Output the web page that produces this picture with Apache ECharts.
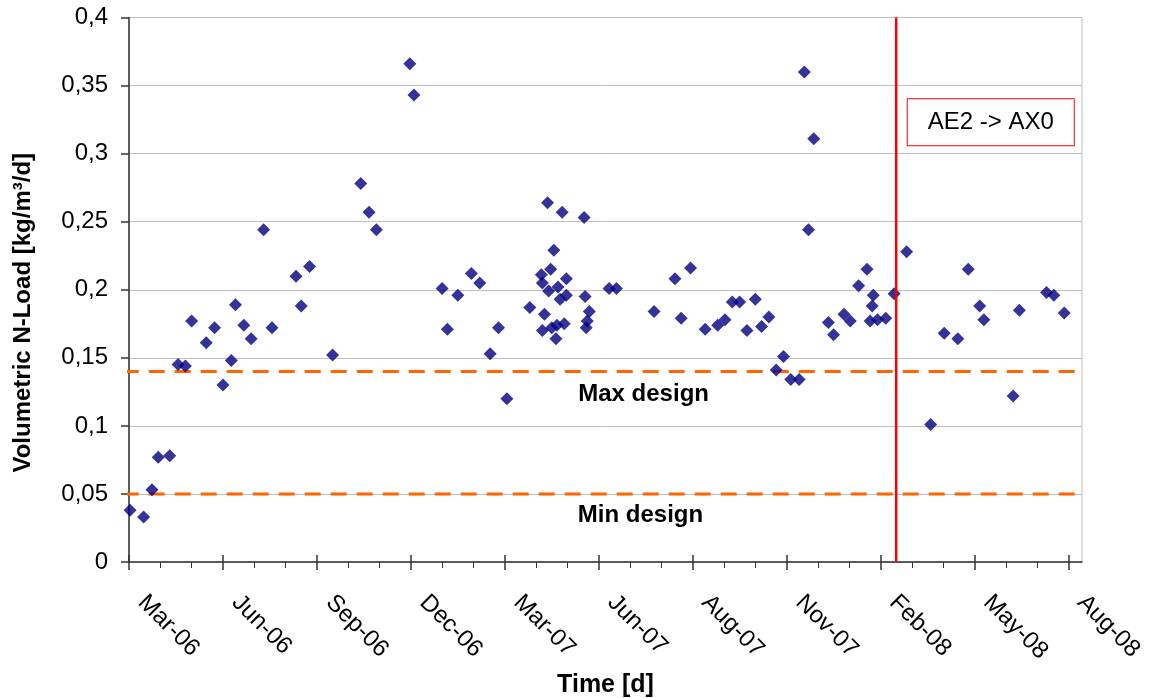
<!DOCTYPE html>
<html>
<head>
<meta charset="utf-8">
<script src="https://cdn.jsdelivr.net/npm/echarts@6/dist/echarts.min.js"></script>
<style>
  html, body { margin: 0; padding: 0; background: #ffffff; }
  #chart { width: 1152px; height: 698px; }
</style>
</head>
<body>
<div id="chart"></div>
<script>
// Sampling day (days since start of monitoring) and volumetric N-load [kg/m3/d]
const sampleDay = [
  1, 14, 22, 28, 39, 47, 54, 60, 74, 82,
  90, 98, 102, 110, 117, 129, 137, 160, 165, 173,
  195, 222, 230, 237, 269, 273, 300, 305, 315, 328,
  336, 346, 354, 362, 384, 395, 396, 396, 398, 401,
  402, 404, 405, 407, 409, 410, 411, 413, 415, 417,
  419, 419, 436, 437, 438, 439, 441, 460, 467, 503,
  523, 529, 538, 552, 564, 571, 578, 585, 592, 600,
  606, 613, 620, 627, 634, 642, 647, 651, 656, 670,
  675, 685, 691, 699, 707, 710, 712, 713, 717, 725,
  733, 745, 768, 781, 794, 804, 815, 819, 847, 853,
  879, 886, 896
];
const nLoad = [
  0.038, 0.033, 0.053, 0.077, 0.078, 0.145, 0.144, 0.177, 0.161, 0.172,
  0.130, 0.148, 0.189, 0.174, 0.164, 0.244, 0.172, 0.210, 0.188, 0.217,
  0.152, 0.278, 0.257, 0.244, 0.366, 0.343, 0.201, 0.171, 0.196, 0.212,
  0.205, 0.153, 0.172, 0.120, 0.187, 0.211, 0.205, 0.170, 0.182, 0.264,
  0.199, 0.215, 0.172, 0.229, 0.164, 0.174, 0.202, 0.193, 0.257, 0.175,
  0.196, 0.208, 0.253, 0.195, 0.172, 0.177, 0.184, 0.201, 0.201, 0.184,
  0.208, 0.179, 0.216, 0.171, 0.174, 0.178, 0.191, 0.191, 0.170, 0.193,
  0.173, 0.180, 0.141, 0.151, 0.134, 0.134, 0.360, 0.244, 0.311, 0.176,
  0.167, 0.182, 0.177, 0.203, 0.215, 0.177, 0.188, 0.196, 0.178, 0.179,
  0.197, 0.228, 0.101, 0.168, 0.164, 0.215, 0.188, 0.178, 0.122, 0.185,
  0.198, 0.196, 0.183
];

// Time axis: one label every 90 days
const xTickLabels = ['Mar-06', 'Jun-06', 'Sep-06', 'Dec-06', 'Mar-07', 'Jun-07',
                     'Aug-07', 'Nov-07', 'Feb-08', 'May-08', 'Aug-08'];
const xTickStepDays = 90;
const xMaxDays = 913;

// Load axis
const yMax = 0.4;
const yTickStep = 0.05;

// Design limits and process change
const maxDesign = 0.14;
const minDesign = 0.05;
const switchDay = 735;
const switchLabel = 'AE2 -> AX0';

const FONT = "'Liberation Sans', Arial, Helvetica, sans-serif";
const AXIS_COLOR = '#333333';
const LIMIT_OVERHANG_DAYS = 6;

const majorDays = xTickLabels.map((_, i) => i * xTickStepDays);
const minorDays = [];
for (let d = xTickStepDays / 3; d < majorDays[majorDays.length - 1]; d += xTickStepDays / 3) {
  if (Math.round(d) % xTickStepDays !== 0) minorDays.push(Math.round(d));
}

const points = sampleDay.map((d, i) => [d, nLoad[i]]);

function limitLine(value) {
  return [[-LIMIT_OVERHANG_DAYS, value], [xMaxDays + 1, value]];
}

const textStyle = { fontFamily: FONT, color: '#000000', fontSize: 24 };

const baseX = { type: 'value', min: 0, max: xMaxDays, position: 'bottom', splitLine: { show: false } };

const chart = echarts.init(document.getElementById('chart'), null, { renderer: 'canvas' });

chart.setOption({
  backgroundColor: '#ffffff',
  animation: false,
  textStyle: { fontFamily: FONT },
  grid: {
    left: 129, right: 70, top: 17.5, bottom: 136,
    show: true, borderColor: '#c0c0c0', borderWidth: 1, backgroundColor: '#ffffff',
    containLabel: false, outerBoundsMode: 'none'
  },
  xAxis: [
    Object.assign({}, baseX, {
      axisLine: { show: true, lineStyle: { color: AXIS_COLOR, width: 1.5 } },
      axisTick: { show: true, customValues: majorDays, length: 8, lineStyle: { color: AXIS_COLOR, width: 1.5 } },
      axisLabel: Object.assign({}, textStyle, {
        customValues: majorDays,
        formatter: v => xTickLabels[Math.round(v / xTickStepDays)],
        rotate: -45, margin: 24, padding: [0, 0, 0, 18]
      }),
      name: 'Time [d]', nameLocation: 'middle', nameGap: 111,
      nameTextStyle: Object.assign({}, textStyle, { fontWeight: 'bold', fontSize: 25 })
    }),
    Object.assign({}, baseX, {
      axisLine: { show: false },
      axisTick: { show: true, inside: true, customValues: majorDays, length: 7, lineStyle: { color: AXIS_COLOR, width: 1.5 } },
      axisLabel: { show: false }
    }),
    Object.assign({}, baseX, {
      axisLine: { show: false },
      axisTick: { show: true, customValues: minorDays, length: 6, lineStyle: { color: AXIS_COLOR, width: 1 } },
      axisLabel: { show: false }
    })
  ],
  yAxis: {
    type: 'value', min: 0, max: yMax, interval: yTickStep,
    axisLine: { show: true, lineStyle: { color: AXIS_COLOR, width: 1.5 } },
    axisTick: { show: true, length: 8, lineStyle: { color: AXIS_COLOR, width: 1.5 } },
    axisLabel: Object.assign({}, textStyle, {
      margin: 21,
      formatter: v => String(+v.toFixed(2)).replace('.', ',')
    }),
    splitLine: { show: true, lineStyle: { color: '#c0c0c0', width: 1 } },
    name: 'Volumetric N-Load [kg/m³/d]', nameLocation: 'middle', nameGap: 94,
    nameTextStyle: Object.assign({}, textStyle, { fontWeight: 'bold', padding: [0, 46, 0, 0] })
  },
  series: [
    {
      name: 'Max design', type: 'line', data: limitLine(maxDesign), clip: false,
      symbol: 'none', silent: true, z: 1,
      lineStyle: { color: '#ff6600', width: 3, type: [16, 10] },
      markPoint: {
        symbol: 'circle', symbolSize: 1, silent: true,
        itemStyle: { color: 'rgba(0,0,0,0)' },
        label: Object.assign({}, textStyle, { show: true, position: 'inside', fontWeight: 'bold', formatter: 'Max design' }),
        data: [{ coord: [493, 0.1235] }]
      }
    },
    {
      name: 'Min design', type: 'line', data: limitLine(minDesign), clip: false,
      symbol: 'none', silent: true, z: 1,
      lineStyle: { color: '#ff6600', width: 3, type: [16, 10] },
      markPoint: {
        symbol: 'circle', symbolSize: 1, silent: true,
        itemStyle: { color: 'rgba(0,0,0,0)' },
        label: Object.assign({}, textStyle, { show: true, position: 'inside', fontWeight: 'bold', formatter: 'Min design' }),
        data: [{ coord: [490, 0.0345] }]
      }
    },
    {
      name: 'Volumetric N-Load', type: 'scatter', data: points, z: 2,
      symbol: 'diamond', symbolSize: 13,
      itemStyle: { color: '#000080' }
    },
    {
      name: switchLabel, type: 'line', data: [[switchDay, 0], [switchDay, yMax]],
      symbol: 'none', silent: true, z: 3,
      lineStyle: { color: '#ff0000', width: 2.5 },
      markPoint: {
        symbol: 'circle', symbolSize: 1, silent: true,
        itemStyle: { color: 'rgba(0,0,0,0)' },
        label: Object.assign({}, textStyle, {
          show: true, position: 'right', distance: 11, formatter: switchLabel,
          backgroundColor: '#ffffff', borderColor: '#ff0000', borderWidth: 1,
          padding: [10, 20], lineHeight: 26
        }),
        data: [{ coord: [switchDay, 0.323] }]
      }
    }
  ]
});
</script>
</body>
</html>
